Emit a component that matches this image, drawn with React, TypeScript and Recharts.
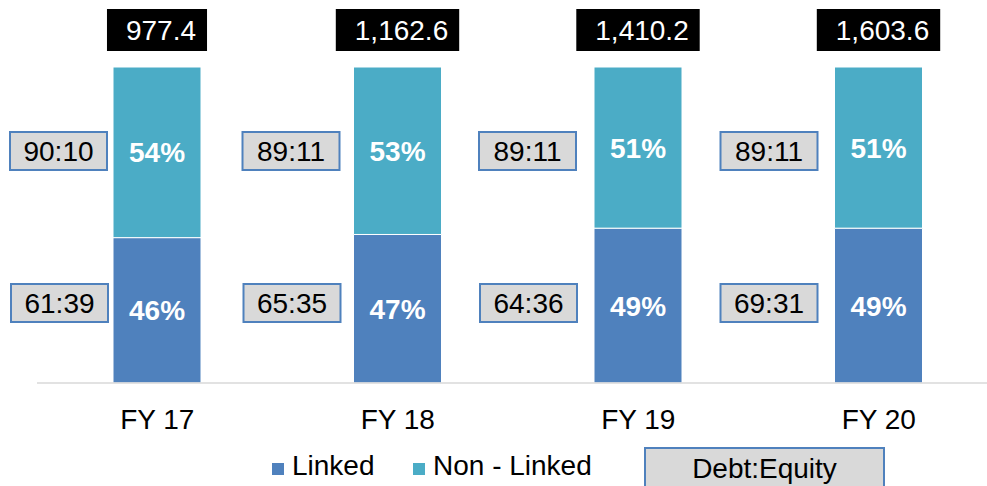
import React from 'react';
import { BarChart, Bar, XAxis, YAxis, LabelList } from 'recharts';

const years: string[] = ['FY 17', 'FY 18', 'FY 19', 'FY 20'];
const linked: number[] = [46, 47, 49, 49];
const nonLinked: number[] = [54, 53, 51, 51];
const totals: number[] = [977.4, 1162.6, 1410.2, 1603.6];
const ratioNonLinked: string[] = ['90:10', '89:11', '89:11', '89:11'];
const ratioLinked: string[] = ['61:39', '65:35', '64:36', '69:31'];

const data = years.map((year, i) => ({
  year,
  linked: linked[i],
  nonLinked: nonLinked[i],
}));

const FONT = '"Liberation Sans", Arial, sans-serif';
const LINKED = '#4F81BD';
const NON_LINKED = '#4BACC6';

// the ratio boxes were placed by hand in the original, gap to the bar differs
const gapTop = [6, 14, 18, 17];
const gapBottom = [5, 13, 17, 17];

// rough Arial widths (em) for sizing the boxes
const textWidth = (s: string, size: number) => {
  let w = 0;
  for (const ch of s) w += ch === ',' || ch === '.' || ch === ':' ? 0.278 : 0.556;
  return w * size;
};

const fmtTotal = (v: number) =>
  v.toLocaleString('en-US', { minimumFractionDigits: 1, maximumFractionDigits: 1 });

const RatioBox = ({ right, cy, text }: { right: number; cy: number; text: string }) => (
  <g>
    <rect x={right - 97} y={cy - 19} width={97} height={38} fill="#D9D9D9" stroke={LINKED} strokeWidth={2} />
    <text x={right - 48.5} y={cy} dy="0.36em" textAnchor="middle" fontSize={28} fill="#000" fontFamily={FONT}>
      {text}
    </text>
  </g>
);

const NonLinkedLabel = (props: any) => {
  const { x, y, width, height, index } = props;
  const cx = x + width / 2;
  const label = fmtTotal(totals[index]);
  const bw = textWidth(label, 28) + 30;
  return (
    <g>
      <rect x={cx - bw / 2} y={y - 58} width={bw} height={42} fill="#000" />
      <text x={cx + 4} y={y - 37} dy="0.36em" textAnchor="middle" fontSize={28} fill="#fff" fontFamily={FONT}>
        {label}
      </text>
      <text x={cx} y={y + height / 2} dy="0.36em" textAnchor="middle" fontSize={28} fontWeight="bold" fill="#fff" fontFamily={FONT}>
        {nonLinked[index]}%
      </text>
      <RatioBox right={x - gapTop[index]} cy={y + 84} text={ratioNonLinked[index]} />
    </g>
  );
};

const LinkedLabel = (props: any) => {
  const { x, y, width, height, index } = props;
  const cx = x + width / 2;
  return (
    <g>
      <text x={cx} y={y + height / 2} dy="0.36em" textAnchor="middle" fontSize={28} fontWeight="bold" fill="#fff" fontFamily={FONT}>
        {linked[index]}%
      </text>
      <RatioBox right={x - gapBottom[index]} cy={y + height - 80} text={ratioLinked[index]} />
    </g>
  );
};

export default function App() {
  return (
    <div style={{ position: 'absolute', left: 0, top: 0, width: 987, height: 486, overflow: 'hidden', background: '#fff', fontFamily: FONT }}>
      <BarChart
        width={1000}
        height={486}
        data={data}
        margin={{ top: 67, right: 1, bottom: 63, left: 37 }}
      >
        <XAxis
          dataKey="year"
          axisLine={{ stroke: '#D9D9D9', strokeWidth: 1.5 }}
          tickLine={false}
          tickSize={0}
          tickMargin={26}
          height={40}
          tick={{ fill: '#000', fontSize: 28, fontFamily: FONT }}
        />
        <YAxis hide domain={[0, 100]} />
        <Bar dataKey="linked" stackId="a" fill={LINKED} stroke="#fff" strokeWidth={1} barSize={88} isAnimationActive={false}>
          <LabelList dataKey="linked" content={LinkedLabel} />
        </Bar>
        <Bar dataKey="nonLinked" stackId="a" fill={NON_LINKED} stroke="#fff" strokeWidth={1} barSize={88} isAnimationActive={false}>
          <LabelList dataKey="nonLinked" content={NonLinkedLabel} />
        </Bar>
      </BarChart>
      <div style={{ position: 'absolute', left: 272, top: 463, width: 12, height: 12, background: LINKED }} />
      <div style={{ position: 'absolute', left: 292, top: 446, fontSize: 28, lineHeight: '40px', color: '#000' }}>Linked</div>
      <div style={{ position: 'absolute', left: 413, top: 463, width: 12, height: 12, background: NON_LINKED }} />
      <div style={{ position: 'absolute', left: 433, top: 446, fontSize: 28, lineHeight: '40px', color: '#000' }}>Non - Linked</div>
      <div
        style={{
          position: 'absolute', left: 644, top: 447, width: 237, height: 50,
          background: '#D9D9D9', border: `2px solid ${LINKED}`, fontSize: 28,
          lineHeight: '40px', textAlign: 'center', color: '#000',
        }}
      >
        Debt:Equity
      </div>
    </div>
  );
}
